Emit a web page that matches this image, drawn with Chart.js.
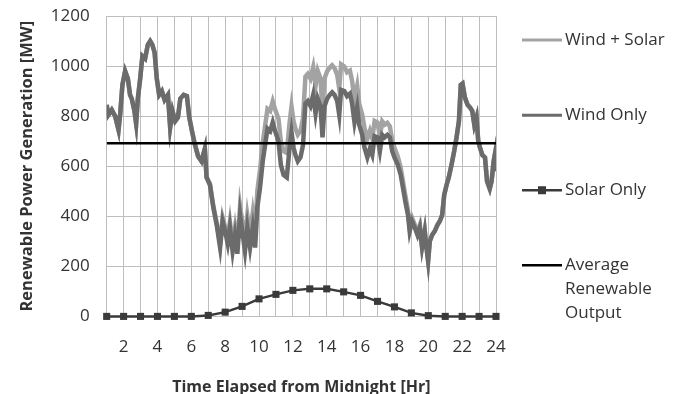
<!DOCTYPE html>
<html>
<head>
<meta charset="utf-8">
<script src="https://cdn.jsdelivr.net/npm/chart.js@4.4.1/dist/chart.umd.min.js"></script>
<style>
  html, body { margin: 0; padding: 0; background: #fff; }
  #wrap { position: relative; width: 680px; height: 394px; }
</style>
</head>
<body>
<div id="wrap"><canvas id="powerChart"></canvas></div>
<script>
// time stamps (hours) of the wind trace
const windHours = [
    1.0, 1.1, 1.3, 1.5, 1.7, 1.8, 1.93, 2.09, 2.25, 2.38,
    2.48, 2.64, 2.74, 2.84, 2.98, 3.11, 3.27, 3.43, 3.57, 3.7,
    3.83, 3.96, 4.1, 4.26, 4.42, 4.62, 4.75, 4.89, 5.05, 5.21,
    5.35, 5.55, 5.74, 5.88, 6.04, 6.2, 6.4, 6.6, 6.8, 6.9,
    7.1, 7.3, 7.5, 7.7, 7.85, 8.0, 8.15, 8.28, 8.44, 8.58,
    8.72, 8.88, 9.04, 9.17, 9.31, 9.47, 9.63, 9.77, 9.9, 10.06,
    10.22, 10.36, 10.5, 10.66, 10.81, 10.95, 11.15, 11.29, 11.45, 11.64,
    11.8, 11.92, 12.04, 12.15, 12.29, 12.45, 12.6, 12.74, 12.88, 13.04,
    13.2, 13.34, 13.47, 13.63, 13.75, 13.87, 14.03, 14.18, 14.32, 14.46,
    14.62, 14.74, 14.85, 15.04, 15.2, 15.37, 15.5, 15.64, 15.8, 15.92,
    16.1, 16.23, 16.4, 16.55, 16.69, 16.83, 17.0, 17.14, 17.28, 17.42,
    17.58, 17.73, 17.87, 18.0, 18.2, 18.37, 18.5, 18.64, 18.8, 18.9,
    19.04, 19.2, 19.36, 19.5, 19.63, 19.79, 19.89, 19.99, 20.09, 20.23,
    20.38, 20.54, 20.68, 20.82, 20.94, 21.08, 21.21, 21.37, 21.53, 21.67,
    21.81, 21.92, 22.02, 22.16, 22.32, 22.46, 22.6, 22.72, 22.85, 22.95,
    23.05, 23.19, 23.35, 23.47, 23.63, 23.74, 23.86, 23.94, 24.0
];

const windOnly = [
    845, 805, 825, 800, 745, 810, 925, 980, 950, 885,
    870, 820, 770, 870, 950, 1040, 1030, 1085, 1100, 1085,
    1055, 950, 885, 900, 865, 885, 755, 820, 780, 795,
    870, 885, 880, 795, 740, 690, 640, 620, 670, 555,
    525, 435, 365, 275, 380, 340, 290, 355, 260, 325,
    250, 405, 325, 260, 355, 275, 355, 275, 435, 515,
    620, 685, 750, 740, 775, 740, 700, 605, 565, 555,
    670, 735, 675, 645, 620, 635, 685, 850, 860, 840,
    885, 810, 870, 840, 715, 840, 870, 885, 895, 885,
    860, 805, 905, 900, 880, 890, 850, 775, 835, 765,
    725, 675, 635, 670, 645, 720, 715, 660, 725, 715,
    725, 715, 660, 635, 605, 565, 515, 460, 405, 340,
    380, 355, 325, 355, 275, 340, 275, 220, 300, 325,
    340, 365, 380, 405, 485, 525, 555, 605, 660, 715,
    780, 925, 930, 875, 845, 835, 820, 765, 795, 700,
    675, 645, 635, 540, 510, 540, 620, 650, 580
];

const windSolar = [
    845, 805, 825, 800, 745, 810, 925, 980, 950, 885,
    870, 820, 770, 870, 950, 1040, 1030, 1085, 1100, 1085,
    1055, 950, 885, 900, 865, 885, 755, 820, 780, 795,
    870, 885, 880, 795, 740, 690, 640, 620, 670, 557,
    530, 442, 375, 288, 395, 357, 310, 378, 287, 355,
    283, 441, 366, 305, 404, 329, 414, 338, 502, 586,
    694, 762, 829, 821, 859, 827, 790, 698, 660, 653,
    771, 838, 779, 750, 726, 741, 792, 958, 969, 950,
    995, 920, 980, 950, 825, 950, 980, 994, 1003, 992,
    965, 909, 1007, 998, 975, 982, 940, 863, 920, 849,
    805, 753, 710, 741, 711, 781, 775, 717, 779, 766,
    773, 759, 701, 673, 638, 594, 541, 484, 424, 357,
    394, 367, 335, 364, 282, 345, 279, 223, 302, 327,
    341, 366, 381, 405, 485, 525, 555, 605, 660, 715,
    780, 925, 930, 875, 845, 835, 820, 765, 795, 700,
    675, 645, 635, 540, 510, 540, 620, 650, 580
];

// hourly solar output
const solarHours = [1, 2, 3, 4, 5, 6, 7, 8, 9, 10, 11, 12, 13, 14, 15, 16, 17, 18, 19, 20, 21, 22, 23, 24];
const solarOnly = [0, 0, 0, 0, 0, 0, 4, 17, 40, 70, 88, 104, 110, 110, 98, 84, 60, 38, 14, 3, 0, 0, 0, 0];

const averageOutput = 692;
const avgHours = [1, 24];

const yTicks = [0, 200, 400, 600, 800, 1000, 1200];

const gridGray = 'rgb(190, 190, 190)';

function wrapText(str, maxWidth) {
    if (str.length <= maxWidth) {
        return [str];
    }
    const words = str.split(' ');
    const lines = [];
    let currentLine = '';
    for (const word of words) {
        if ((currentLine + word).length <= maxWidth) {
            currentLine += word + ' ';
        } else {
            if (currentLine) lines.push(currentLine.trim());
            currentLine = word + ' ';
        }
    }
    lines.push(currentLine.trim());
    return lines;
}

function toPoints(xs, ys) {
    return xs.map((x, i) => ({ x: x, y: ys[i] }));
}

// legend drawn on the right, one entry per dataset
const sideLegend = {
    id: 'sideLegend',
    afterDraw(chart) {
        const { ctx, chartArea } = chart;
        const x0 = chartArea.right + 26;
        const lineLen = 40;
        ctx.save();
        ctx.font = "17px 'Open Sans'";
        ctx.textBaseline = 'middle';
        ctx.fillStyle = '#333';
        chart.data.datasets.forEach((ds, i) => {
            const y = chartArea.top + chartArea.height * (0.08 + 0.25 * i);
            ctx.strokeStyle = ds.borderColor;
            ctx.lineWidth = ds.legendLineWidth;
            ctx.beginPath();
            ctx.moveTo(x0, y);
            ctx.lineTo(x0 + lineLen, y);
            ctx.stroke();
            if (ds.pointRadius > 0) {
                ctx.fillStyle = ds.pointBackgroundColor;
                ctx.fillRect(x0 + lineLen / 2 - 4, y - 4, 8, 8);
                ctx.fillStyle = '#333';
            }
            wrapText(ds.label, 12).forEach((t, k) => {
                ctx.fillText(t, x0 + lineLen + 3, y + k * 24);
            });
        });
        ctx.restore();
    }
};

Chart.defaults.font.family = "'Open Sans', sans-serif";
Chart.defaults.color = '#333';

const powerCtx = document.getElementById('powerChart').getContext('2d');
new Chart(powerCtx, {
    type: 'line',
    data: {
        datasets: [{
            label: 'Wind + Solar',
            data: toPoints(windHours, windSolar),
            borderColor: '#a3a3a3',
            borderWidth: 4.5,
            legendLineWidth: 3,
            pointRadius: 0,
            order: 4
        }, {
            label: 'Wind Only',
            data: toPoints(windHours, windOnly),
            borderColor: '#6b6b6b',
            borderWidth: 4.5,
            legendLineWidth: 3,
            pointRadius: 0,
            order: 3
        }, {
            label: 'Solar Only',
            data: toPoints(solarHours, solarOnly),
            borderColor: '#3a3a3a',
            borderWidth: 2.5,
            legendLineWidth: 2.5,
            pointStyle: 'rect',
            pointRadius: 5,
            pointHoverRadius: 5,
            pointBackgroundColor: '#3a3a3a',
            pointBorderColor: '#3a3a3a',
            pointBorderWidth: 0,
            clip: false,
            order: 2
        }, {
            label: 'Average Renewable Output',
            data: avgHours.map(h => ({ x: h, y: averageOutput })),
            borderColor: '#000',
            borderWidth: 2.5,
            legendLineWidth: 2.5,
            pointRadius: 0,
            order: 1
        }]
    },
    options: {
        responsive: true,
        maintainAspectRatio: false,
        animation: false,
        layout: {
            padding: { left: 10, right: 184, top: 16, bottom: 0 }
        },
        plugins: {
            legend: { display: false },
            tooltip: { enabled: false }
        },
        elements: {
            line: { tension: 0 }
        },
        scales: {
            x: {
                type: 'linear',
                min: 1,
                max: 24,
                grid: { color: gridGray, lineWidth: 1, tickLength: 18, tickColor: 'rgba(0,0,0,0)' },
                border: { color: gridGray, width: 1 },
                ticks: {
                    stepSize: 1,
                    autoSkip: false,
                    maxRotation: 0,
                    minRotation: 0,
                    padding: 3,
                    font: { size: 17 },
                    callback: v => (v % 2 === 0 ? String(v) : '')
                },
                title: {
                    display: true,
                    text: 'Time Elapsed from Midnight [Hr]',
                    font: { size: 16, weight: 'bold' },
                    padding: { top: 17, bottom: -3 }
                }
            },
            y: {
                min: yTicks[0],
                max: yTicks[yTicks.length - 1],
                afterBuildTicks: scale => {
                    scale.ticks = yTicks.map(v => ({ value: v }));
                },
                grid: { color: gridGray, lineWidth: 1, tickLength: 13, tickColor: 'rgba(0,0,0,0)' },
                border: { color: gridGray, width: 1 },
                ticks: {
                    padding: 4,
                    font: { size: 17 },
                    callback: v => String(v)
                },
                title: {
                    display: true,
                    text: 'Renewable Power Generation [MW]',
                    font: { size: 16.5, weight: 'bold' },
                    padding: { top: 7, bottom: 10 }
                }
            }
        }
    },
    plugins: [sideLegend]
});
</script>
</body>
</html>
